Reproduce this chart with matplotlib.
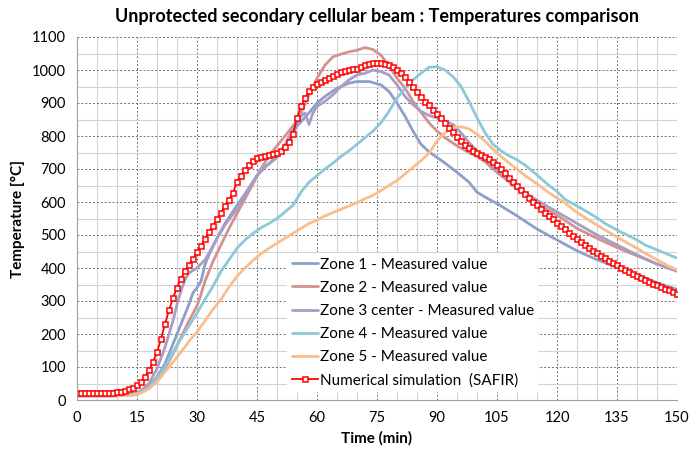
import numpy as np
import matplotlib
matplotlib.use('Agg')
import matplotlib.pyplot as plt
from matplotlib.ticker import MultipleLocator

plt.rcParams['font.family'] = ['Lato', 'DejaVu Sans']

# Zone 1 - measured
z1_t = [0, 10, 14, 16, 18, 20, 22, 24, 26, 28, 29, 30, 31, 32, 33, 35, 37, 40, 42, 45, 47, 50,
        52, 55, 58, 60, 62, 65, 68, 70, 73, 76, 78, 80, 82, 84, 86, 88, 90, 92, 95, 98, 100,
        102, 104, 106, 110, 115, 120, 125, 130, 135, 140, 145, 150]
z1_T = [15, 15, 18, 25, 40, 70, 110, 170, 230, 290, 325, 340, 360, 410, 440, 490, 535, 590, 625,
        680, 705, 740, 770, 830, 870, 900, 920, 945, 960, 965, 965, 955, 935, 900, 860, 815, 775,
        752, 735, 718, 690, 660, 630, 615, 602, 588, 558, 518, 485, 452, 425, 402, 380, 355, 335]

# Zone 2 - measured
z2_t = [0, 10, 14, 16, 18, 20, 22, 24, 26, 28, 30, 31, 32, 34, 36, 38, 40, 42, 44, 46, 48, 50,
        52, 54, 56, 58, 60, 62, 64, 66, 68, 70, 72, 74, 76, 78, 80, 82, 84, 86, 88, 90, 92, 95,
        98, 100, 102, 104, 106, 108, 110, 115, 120, 125, 130, 135, 140, 145, 150]
z2_T = [15, 15, 18, 22, 35, 60, 95, 140, 190, 240, 285, 320, 360, 420, 470, 520, 565, 610, 655,
        700, 740, 770, 800, 830, 870, 925, 975, 1015, 1040, 1048, 1055, 1060, 1068, 1062, 1045,
        1012, 975, 945, 905, 872, 840, 815, 795, 770, 750, 738, 722, 700, 680, 662, 640, 595,
        560, 520, 490, 462, 437, 412, 390]

# Zone 3 center - measured
z3_t = [0, 10, 14, 16, 18, 20, 22, 24, 25, 26, 27, 28, 30, 32, 33, 35, 37, 40, 42, 44, 46, 48,
        50, 52, 54, 56, 57, 58, 59, 60, 62, 64, 66, 68, 70, 72, 74, 76, 78, 80, 82, 84, 86, 88,
        90, 92, 94, 96, 98, 100, 102, 104, 106, 108, 110, 115, 120, 125, 130, 135, 140, 145, 150]
z3_T = [15, 15, 18, 28, 50, 95, 160, 240, 290, 330, 365, 385, 400, 425, 445, 490, 530, 580, 620,
        660, 700, 715, 735, 775, 820, 860, 870, 835, 870, 890, 905, 925, 950, 970, 985, 990, 1000,
        995, 985, 955, 920, 895, 875, 862, 855, 845, 835, 810, 780, 755, 730, 705, 685, 665, 645,
        605, 570, 535, 500, 470, 440, 412, 392]

# Zone 4 - measured
z4_t = [0, 10, 14, 16, 18, 20, 22, 24, 26, 28, 30, 32, 34, 36, 38, 40, 42, 44, 46, 48, 50, 52,
        54, 56, 58, 60, 62, 64, 66, 68, 70, 72, 74, 76, 78, 80, 82, 84, 86, 88, 90, 92, 94, 96,
        98, 100, 102, 104, 106, 108, 110, 112, 115, 118, 120, 122, 125, 128, 130, 132, 135, 138,
        140, 142, 145, 148, 150]
z4_T = [12, 12, 15, 22, 38, 65, 100, 145, 185, 225, 263, 305, 345, 390, 425, 460, 485, 505, 522,
        535, 550, 570, 590, 630, 660, 680, 700, 718, 738, 755, 775, 795, 815, 840, 875, 915, 945,
        970, 990, 1008, 1010, 1000, 980, 950, 905, 855, 810, 775, 755, 740, 728, 712, 682, 650,
        632, 608, 588, 567, 552, 535, 515, 497, 485, 470, 455, 440, 430]

# Zone 5 - measured
z5_t = [0, 10, 14, 16, 18, 20, 22, 24, 26, 28, 30, 32, 34, 36, 38, 40, 42, 44, 46, 48, 50, 52,
        54, 56, 58, 60, 62, 64, 66, 68, 70, 72, 74, 76, 78, 80, 82, 84, 86, 88, 90, 92, 94, 96,
        98, 100, 102, 104, 106, 108, 110, 112, 115, 118, 120, 122, 125, 128, 130, 132, 135, 138,
        140, 142, 145, 148, 150]
z5_T = [12, 12, 15, 22, 35, 55, 85, 115, 145, 178, 206, 240, 275, 305, 342, 375, 400, 423, 443,
        460, 475, 490, 505, 520, 535, 545, 558, 568, 578, 588, 598, 610, 620, 635, 650, 665, 685,
        705, 725, 748, 785, 810, 825, 828, 822, 805, 785, 760, 738, 718, 700, 680, 655, 628, 612,
        597, 568, 545, 530, 515, 494, 473, 460, 445, 425, 405, 395]

# Numerical simulation (SAFIR), one value per minute from 0 to 150
safir_t = list(range(0, 151))
safir_T = [20, 20, 20, 20, 20, 20, 20, 20, 20, 21,
           23, 25, 28, 32, 37, 44, 55, 70, 90, 115,
           145, 185, 230, 272, 310, 340, 368, 390, 410, 428,
           447, 467, 488, 508, 528, 548, 568, 588, 607, 627,
           662, 680, 697, 712, 724, 732, 737, 740, 742, 744,
           748, 755, 766, 782, 805, 855, 890, 915, 935, 950,
           958, 965, 971, 977, 983, 988, 993, 997, 1000, 1002,
           1004, 1008, 1015, 1018, 1020, 1020, 1020, 1018, 1015, 1008,
           1000, 990, 978, 963, 948, 933, 918, 904, 893, 880,
           868, 855, 840, 825, 812, 798, 785, 774, 764, 756,
           748, 742, 736, 730, 722, 712, 700, 688, 674, 660,
           648, 636, 624, 612, 600, 590, 579, 568, 558, 547,
           537, 527, 517, 507, 497, 488, 479, 470, 461, 453,
           445, 437, 429, 422, 415, 408, 401, 394, 388, 382,
           376, 370, 364, 358, 353, 347, 342, 337, 332, 327,
           322]

zones = [
    (z1_t, z1_T, '#8E9FCB', 'Zone 1 - Measured value'),
    (z2_t, z2_T, '#D3918F', 'Zone 2 - Measured value'),
    (z3_t, z3_T, '#A79EC6', 'Zone 3 center - Measured value'),
    (z4_t, z4_T, '#8EC8D8', 'Zone 4 - Measured value'),
    (z5_t, z5_T, '#F9BE8C', 'Zone 5 - Measured value'),
]

fig = plt.figure(figsize=(6.95, 4.57), dpi=100)
ax = fig.add_axes([77 / 695, 1 - 400 / 457, 600 / 695, 363 / 457])

for t, T, c, lab in zones:
    ax.plot(t, T, color=c, lw=2.0, label=lab, solid_capstyle='round')

ax.plot(safir_t, safir_T, color='#FF0000', lw=1.3, marker='s', markersize=3.6,
        markerfacecolor='white', markeredgecolor='#FF0000', markeredgewidth=1.1,
        label='Numerical simulation  (SAFIR)')

ax.set_xlim(0, 150)
ax.set_ylim(0, 1100)
ax.xaxis.set_major_locator(MultipleLocator(15))
ax.xaxis.set_minor_locator(MultipleLocator(5))
ax.yaxis.set_major_locator(MultipleLocator(100))
ax.yaxis.set_minor_locator(MultipleLocator(50))

ax.grid(True, which='minor', color='#D4D4D4', lw=0.8, ls='-')
ax.grid(True, which='major', color='#707070', lw=0.7, ls=(0, (2, 2)))
ax.set_axisbelow(True)

for s in ['top', 'right']:
    ax.spines[s].set_visible(False)
for s in ['left', 'bottom']:
    ax.spines[s].set_color('#A0A0A0')
    ax.spines[s].set_linewidth(0.8)

ax.tick_params(which='both', length=0, labelsize=10.5, pad=8)
ax.set_xlabel('Time (min)', fontsize=11, fontweight='bold', labelpad=4)
ax.set_ylabel('Temperature [°C]', fontsize=11, fontweight='bold', labelpad=5)
ax.set_title('Unprotected secondary cellular beam : Temperatures comparison',
             fontsize=13, fontweight='bold', pad=11)

leg = ax.legend(loc='lower left', bbox_to_anchor=(0.338, 0.0), fontsize=11,
                frameon=True, facecolor='white', edgecolor='none', framealpha=1,
                handlelength=1.7, handletextpad=0.1, borderpad=0.3, labelspacing=0.6,
                fancybox=False)

plt.savefig('out.png', dpi=100)
